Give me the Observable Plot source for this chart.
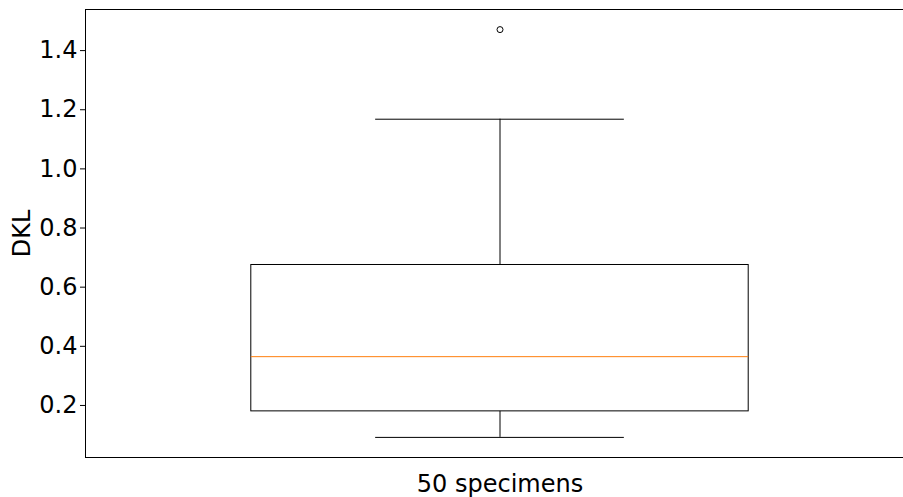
<!DOCTYPE html>
<html>
<head>
<meta charset="utf-8">
<script src="https://cdn.jsdelivr.net/npm/d3@7"></script>
<script src="https://cdn.jsdelivr.net/npm/@observablehq/plot@0.6"></script>
<style>
  html, body { margin: 0; padding: 0; background: #fff; }
  svg { display: block; }
</style>
</head>
<body>
<div id="chart"></div>
<script>
const categories = ["50 specimens"];
const positions = [1];
const q1 = [0.18];
const median = [0.365];
const q3 = [0.675];
const whiskerLow = [0.092];
const whiskerHigh = [1.168];
const outliers = [1.471];
const yTicks = [0.2, 0.4, 0.6, 0.8, 1.0, 1.2, 1.4];
const boxWidth = 0.6;

const boxes = categories.map((c, i) => ({
  name: c, pos: positions[i], q1: q1[i], med: median[i], q3: q3[i],
  lo: whiskerLow[i], hi: whiskerHigh[i]
}));
const fliers = outliers.map(v => ({pos: positions[0], v}));

const chart = Plot.plot({
  width: 903,
  height: 497,
  marginLeft: 85,
  marginRight: -11,
  marginTop: 9,
  marginBottom: 40,
  style: {fontFamily: "DejaVu Sans", fontSize: "24px", background: "#fff", color: "#000", overflow: "hidden"},
  x: {domain: [0.5, 1.5], axis: null},
  y: {domain: [0.024, 1.539], axis: null},
  marks: [
    Plot.frame({anchor: "top", stroke: "#000", strokeWidth: 1}),
    Plot.frame({anchor: "left", stroke: "#000", strokeWidth: 1}),
    Plot.frame({anchor: "bottom", stroke: "#000", strokeWidth: 1}),
    Plot.ruleX(boxes, {x: "pos", y1: "lo", y2: "q1", stroke: "#000", strokeWidth: 1}),
    Plot.ruleX(boxes, {x: "pos", y1: "q3", y2: "hi", stroke: "#000", strokeWidth: 1}),
    Plot.ruleY(boxes, {y: "lo", x1: d => d.pos - boxWidth / 4, x2: d => d.pos + boxWidth / 4, stroke: "#000", strokeWidth: 1}),
    Plot.ruleY(boxes, {y: "hi", x1: d => d.pos - boxWidth / 4, x2: d => d.pos + boxWidth / 4, stroke: "#000", strokeWidth: 1}),
    Plot.rect(boxes, {x1: d => d.pos - boxWidth / 2, x2: d => d.pos + boxWidth / 2, y1: "q1", y2: "q3", fill: "none", stroke: "#000", strokeWidth: 1}),
    Plot.ruleY(boxes, {y: "med", x1: d => d.pos - boxWidth / 2, x2: d => d.pos + boxWidth / 2, stroke: "#ff7f0e", strokeWidth: 1}),
    Plot.dot(fliers, {x: "pos", y: "v", r: 3, stroke: "#000", fill: "none", strokeWidth: 1}),
    Plot.axisY({ticks: yTicks, tickFormat: d3.format(".1f"), tickSize: 5, tickPadding: 3, fontSize: 24, label: null}),
    Plot.axisX({ticks: positions, tickFormat: (d, i) => categories[i], tickSize: 0, tickPadding: 17, fontSize: 24, label: null}),
    Plot.text(["DKL"], {frameAnchor: "left", textAnchor: "middle", dx: -63, rotate: -90, fontSize: 24, fill: "#000"})
  ]
});
document.getElementById("chart").appendChild(chart);
</script>
</body>
</html>
